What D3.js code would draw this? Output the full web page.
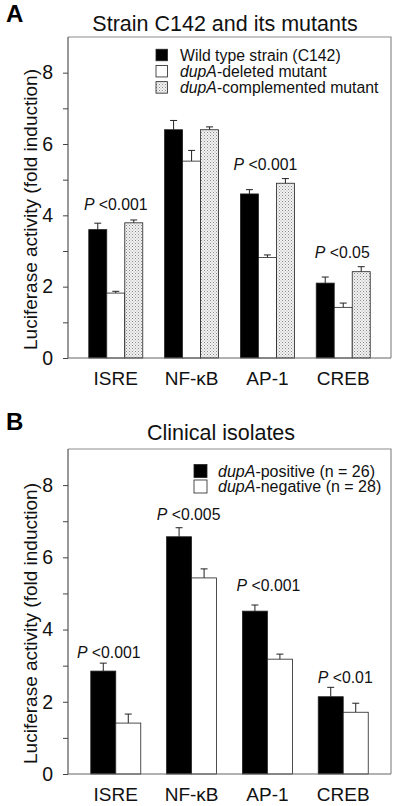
<!DOCTYPE html>
<html>
<head>
<meta charset="utf-8">
<script src="https://cdn.jsdelivr.net/npm/d3@7"></script>
<style>
  body { margin: 0; background: #fff; }
  svg { display: block; font-family: "Liberation Sans", Arial, sans-serif; }
</style>
</head>
<body>
<svg id="chart" width="400" height="806"></svg>
<script>
// ---- data ----
const categories = ["ISRE", "NF-κB", "AP-1", "CREB"];
const yTicks = [0, 2, 4, 6, 8];
const yMinorTicks = [1, 3, 5, 7];

// Panel A: strain C142 and its mutants
const wildType      = [3.60, 6.40, 4.60, 2.10];
const wildTypeErr   = [0.18, 0.26, 0.12, 0.17];
const deleted       = [1.82, 5.52, 2.82, 1.42];
const deletedErr    = [0.05, 0.30, 0.07, 0.12];
const complemented  = [3.79, 6.40, 4.90, 2.42];
const complementedErr = [0.08, 0.08, 0.13, 0.14];
const pValuesA      = ["<0.001", "", "<0.001", "<0.05"];

// Panel B: clinical isolates
const positive      = [2.85, 6.57, 4.51, 2.14];
const positiveErr   = [0.22, 0.25, 0.17, 0.26];
const negative      = [1.41, 5.43, 3.18, 1.71];
const negativeErr   = [0.25, 0.25, 0.14, 0.25];
const pValuesB      = ["<0.001", "<0.005", "<0.001", "<0.01"];

const svg = d3.select("#chart");

// stipple pattern
const defs = svg.append("defs");
const pat = defs.append("pattern").attr("id", "stipple")
  .attr("patternUnits", "userSpaceOnUse").attr("width", 3).attr("height", 3);
pat.append("rect").attr("width", 3).attr("height", 3).attr("fill", "#f2f2f2");
pat.append("rect").attr("x", 0).attr("y", 0).attr("width", 1).attr("height", 1).attr("fill", "#8a8a8a");
pat.append("rect").attr("x", 1.5).attr("y", 1.5).attr("width", 1).attr("height", 1).attr("fill", "#a8a8a8");

const fills = { black: "#000", white: "#fff", dots: "url(#stipple)" };

function drawPanel(cfg) {
  const { top, bottom, left, right } = cfg;
  const g = svg.append("g");
  const y = d3.scaleLinear().domain([0, 9]).range([bottom, top]);
  const x = d3.scaleBand().domain(categories).range([left, right])
    .paddingInner(0).paddingOuter(0.13);
  const inner = d3.scaleBand().domain(d3.range(cfg.series.length))
    .range([0, cfg.barW * cfg.series.length]);

  // frame (top & right)
  g.append("path")
    .attr("d", `M${left},${top}H${right}V${bottom}`)
    .attr("fill", "none").attr("stroke", "#8c8c8c").attr("stroke-width", 1.2);

  // bars
  cfg.series.forEach((s, si) => {
    const grp = g.append("g");
    categories.forEach((c, i) => {
      const x0 = x(c) + x.bandwidth() / 2 - inner.range()[1] / 2 + inner(si);
      const v = s.values[i], e = s.err[i];
      const cx = x0 + inner.bandwidth() / 2;
      grp.append("line").attr("x1", cx).attr("x2", cx)
        .attr("y1", y(v)).attr("y2", y(v + e))
        .attr("stroke", "#222").attr("stroke-width", 1);
      grp.append("line").attr("x1", cx - 3.5).attr("x2", cx + 3.5)
        .attr("y1", y(v + e)).attr("y2", y(v + e))
        .attr("stroke", "#222").attr("stroke-width", 1);
      grp.append("rect")
        .attr("x", x0).attr("y", y(v))
        .attr("width", inner.bandwidth()).attr("height", y(0) - y(v))
        .attr("fill", fills[s.fill]).attr("stroke", "#222").attr("stroke-width", 0.8);
    });
  });

  // y axis
  const axis = g.append("g").attr("transform", `translate(${left},0)`)
    .call(d3.axisLeft(y).tickValues(yTicks).tickSize(5).tickPadding(10));
  axis.selectAll("text").attr("font-size", 19.5).attr("fill", "#111")
    .attr("font-family", "Liberation Sans, Arial, sans-serif");
  axis.select(".domain").attr("stroke", "#555").attr("stroke-width", 1.2)
    .attr("d", `M-0,${bottom}V${top}`);
  axis.selectAll(".tick line").attr("stroke", "#444");
  g.append("g").attr("transform", `translate(${left},0)`)
    .call(d3.axisLeft(y).tickValues(yMinorTicks).tickSize(5).tickFormat(""))
    .call(a => a.select(".domain").remove())
    .selectAll(".tick line").attr("stroke", "#444");

  // bottom axis line
  g.append("line").attr("x1", left).attr("x2", right)
    .attr("y1", bottom).attr("y2", bottom)
    .attr("stroke", "#666").attr("stroke-width", 1.2);

  // category labels
  g.selectAll(".cat").data(categories).enter().append("text")
    .attr("x", d => x(d) + x.bandwidth() / 2)
    .attr("y", bottom + 27)
    .attr("text-anchor", "middle").attr("font-size", 19).attr("fill", "#111")
    .text(d => d);

  // y label
  g.append("text")
    .attr("transform", `translate(${cfg.ylabX},${(top + bottom) / 2 + 12}) rotate(-90)`)
    .attr("text-anchor", "middle").attr("font-size", 19).attr("fill", "#111")
    .text("Luciferase activity (fold induction)");

  // title + panel letter
  g.append("text").attr("x", cfg.titleX).attr("y", cfg.titleY)
    .attr("text-anchor", "middle").attr("font-size", 21.5).attr("fill", "#111")
    .text(cfg.title);
  g.append("text").attr("x", 6).attr("y", cfg.letterY)
    .attr("font-size", 24).attr("font-weight", "bold").attr("fill", "#000")
    .text(cfg.letter);

  // p-values
  categories.forEach((c, i) => {
    const p = cfg.pvals[i];
    if (!p) return;
    const t = g.append("text")
      .attr("x", x(c) + x.bandwidth() / 2 + cfg.pShift[i])
      .attr("y", y(cfg.pAt[i]))
      .attr("text-anchor", "middle").attr("font-size", 15.8).attr("fill", "#111");
    t.append("tspan").attr("font-style", "italic").text("P");
    t.append("tspan").text(" " + p);
  });

  // legend
  cfg.series.forEach((s, si) => {
    const ly = cfg.legY + si * cfg.legStep;
    g.append("rect").attr("x", cfg.legX).attr("y", ly - cfg.legBox / 2)
      .attr("width", cfg.legBox).attr("height", cfg.legBox)
      .attr("fill", fills[s.fill]).attr("stroke", "#222").attr("stroke-width", 0.8);
    const t = g.append("text").attr("x", cfg.legTextX)
      .attr("y", ly + 5.5).attr("font-size", cfg.legFont).attr("fill", "#111");
    s.label.forEach(part => {
      t.append("tspan").attr("font-style", part[1] ? "italic" : "normal").text(part[0]);
    });
  });
}

drawPanel({
  top: 37, bottom: 358, left: 68, right: 391,
  barW: 18,
  series: [
    { values: wildType, err: wildTypeErr, fill: "black", label: [["Wild type strain (C142)", false]] },
    { values: deleted, err: deletedErr, fill: "white", label: [["dupA", true], ["-deleted mutant", false]] },
    { values: complemented, err: complementedErr, fill: "dots", label: [["dupA", true], ["-complemented mutant", false]] }
  ],
  pvals: pValuesA, pAt: [4.15, 0, 5.27, 2.8], pShift: [0, 0, -2, -1],
  title: "Strain C142 and its mutants", titleX: 225, titleY: 31,
  letter: "A", letterY: 22, ylabX: 37,
  legX: 156, legY: 55, legStep: 16.2, legBox: 11.5, legTextX: 180, legFont: 15.8
});

drawPanel({
  top: 449, bottom: 774, left: 68, right: 391,
  barW: 25,
  series: [
    { values: positive, err: positiveErr, fill: "black", label: [["dupA", true], ["-positive (n = 26)", false]] },
    { values: negative, err: negativeErr, fill: "white", label: [["dupA", true], ["-negative (n = 28)", false]] }
  ],
  pvals: pValuesB, pAt: [3.21, 7.03, 5.07, 2.52], pShift: [-7, -3, 1, 2],
  title: "Clinical isolates", titleX: 221, titleY: 440,
  letter: "B", letterY: 430, ylabX: 37,
  legX: 194, legY: 471, legStep: 15.5, legBox: 13, legTextX: 218, legFont: 16
});
</script>
</body>
</html>
